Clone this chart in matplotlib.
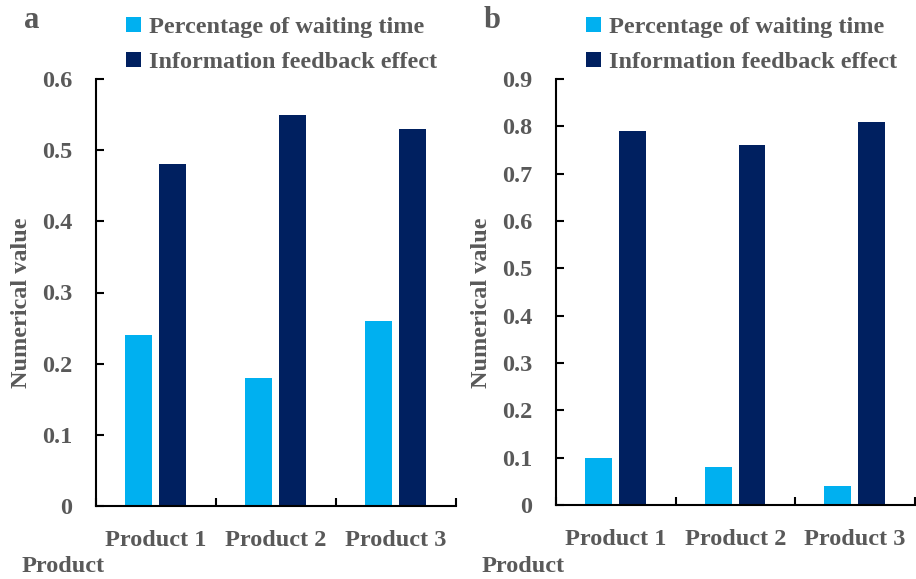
import matplotlib
matplotlib.use('Agg')
import numpy as np
import matplotlib.pyplot as plt

# Data
products = ['Product 1', 'Product 2', 'Product 3']
waiting_a = [0.24, 0.18, 0.26]
feedback_a = [0.48, 0.55, 0.53]
waiting_b = [0.10, 0.08, 0.04]
feedback_b = [0.79, 0.76, 0.81]
yticks_a = [0, 0.1, 0.2, 0.3, 0.4, 0.5, 0.6]
yticks_b = [0, 0.1, 0.2, 0.3, 0.4, 0.5, 0.6, 0.7, 0.8, 0.9]

light = '#00B0F0'
dark = '#002060'
gray = '#595959'
fs = 17.5

plt.rcParams['font.family'] = ['Liberation Serif', 'DejaVu Serif']
plt.rcParams['font.weight'] = 'bold'

W, H = 916, 579
fig = plt.figure(figsize=(W / 100, H / 100), dpi=100)


def make_panel(left, right, y0, ytop, waiting, feedback, yticks, letter, off):
    ax = fig.add_axes([left / W, (H - y0) / H, (right - left) / W, (y0 - ytop) / H])
    x = np.arange(len(products))
    b1 = ax.bar(x - 0.145, waiting, width=0.225, color=light,
                label='Percentage of waiting time')
    b2 = ax.bar(x + 0.138, feedback, width=0.225, color=dark,
                label='Information feedback effect')
    ax.set_xlim(-0.5, len(products) - 0.5)
    ax.set_ylim(0, yticks[-1])
    ax.set_yticks(yticks)
    ax.set_yticklabels(['0' if v == 0 else f'{v:.1f}' for v in yticks],
                       fontweight='bold')
    ax.set_xticks(x)
    ax.set_xticklabels(products, fontweight='bold')
    ax.set_xticks(np.arange(len(products) + 1) - 0.5, minor=True)
    ax.tick_params(axis='x', which='major', length=0, pad=17,
                   labelsize=fs, labelcolor=gray)
    ax.tick_params(axis='x', which='minor', direction='in', length=6, width=1.5)
    ax.tick_params(axis='y', direction='in', length=6, width=1.5, pad=17,
                   labelsize=fs, labelcolor=gray)
    for s in ['top', 'right']:
        ax.spines[s].set_visible(False)
    for s in ['left', 'bottom']:
        ax.spines[s].set_linewidth(1.5)
    ax.set_ylabel('Numerical value', fontsize=fs, color=gray, fontweight='bold')
    ax.yaxis.set_label_coords((off + 32 - left) / (right - left),
                              (y0 - 303) / (y0 - ytop))
    fig.text((off + 22) / W, 1 - 567 / H, 'Product', fontsize=fs,
             color=gray, va='center', ha='left', fontweight='bold')
    fig.text((off + 24) / W, 1 - 20 / H, letter, fontsize=22,
             color=gray, va='center', ha='left', fontweight='bold')
    ax.legend(handles=[b1, b2], loc='upper left',
              bbox_to_anchor=((off + 126) / W, 1 - 17 / H),
              bbox_transform=fig.transFigure, frameon=False,
              handlelength=0.6, handleheight=0.6, handletextpad=0.35,
              labelspacing=0.55, borderpad=0, borderaxespad=0,
              prop={'size': fs, 'weight': 'bold'}, labelcolor=gray)
    return ax


make_panel(96, 456, 506, 79, waiting_a, feedback_a, yticks_a, 'a', 0)
make_panel(556, 915, 505, 79, waiting_b, feedback_b, yticks_b, 'b', 460)

fig.savefig('out.png', dpi=100)
